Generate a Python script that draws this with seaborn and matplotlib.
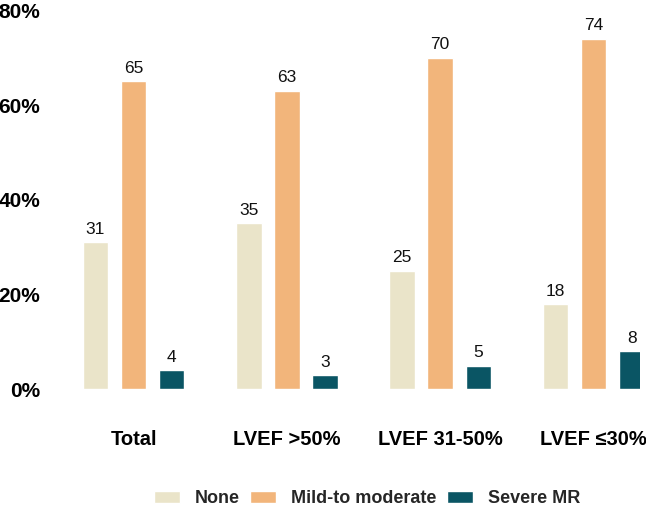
import numpy as np
import pandas as pd
import matplotlib
matplotlib.use('Agg')
import matplotlib.pyplot as plt
import seaborn as sns
from matplotlib.ticker import FuncFormatter

# ── DATA ─────────────────────────────────────────────
GROUPS = ['Total', 'LVEF >50%', 'LVEF 31-50%', 'LVEF \u226430%']
SERIES = ['None', 'Mild-to moderate', 'Severe MR']
NONE_VALS = [31, 35, 25, 18]
MILD_VALS = [65, 63, 70, 74]
SEVERE_VALS = [4, 3, 5, 8]
COLORS = ['#EAE4C9', '#F2B57B', '#0A5564']

df = pd.DataFrame({
    'group': GROUPS * 3,
    'grade': [s for s in SERIES for _ in GROUPS],
    'pct': NONE_VALS + MILD_VALS + SEVERE_VALS,
})

sns.set_theme(style='white')
plt.rcParams['font.family'] = ['Liberation Sans', 'DejaVu Sans']

fig = plt.figure(figsize=(6.46, 5.11), dpi=100)
ax = fig.add_axes([0.10, 0.238, 0.89, 0.742])

sns.barplot(
    data=df, x='group', y='pct', hue='grade',
    order=GROUPS, hue_order=SERIES, palette=COLORS,
    width=0.745, gap=0.33, saturation=1, ax=ax,
)

# value labels above every bar
for cont in ax.containers:
    ax.bar_label(cont, fmt='%d', padding=4, fontsize=12.5, color='#111111')

ax.set_ylim(0, 80)
ax.set_yticks([0, 20, 40, 60, 80])
ax.yaxis.set_major_formatter(FuncFormatter(lambda v, p: f'{v:.0f}%'))
ax.set_xlim(-0.45, 3.30)
ax.set_xlabel('')
ax.set_ylabel('')
for s in ax.spines.values():
    s.set_visible(False)
ax.tick_params(axis='y', labelsize=15, pad=17.5, length=0)
ax.tick_params(axis='x', labelsize=14.5, pad=29, length=0)
for t in ax.get_yticklabels() + ax.get_xticklabels():
    t.set_fontweight('bold')
    t.set_color('black')

ax.legend_.remove()
handles, labels = ax.get_legend_handles_labels()
leg = fig.legend(
    handles, labels, loc='center', bbox_to_anchor=(0.568, 0.024),
    ncol=3, frameon=False, handlelength=1.45, handleheight=0.6,
    handletextpad=0.8, columnspacing=0.6, borderpad=0.1,
    prop={'weight': 'bold', 'size': 13},
)

fig.savefig('out.png', dpi=100)
